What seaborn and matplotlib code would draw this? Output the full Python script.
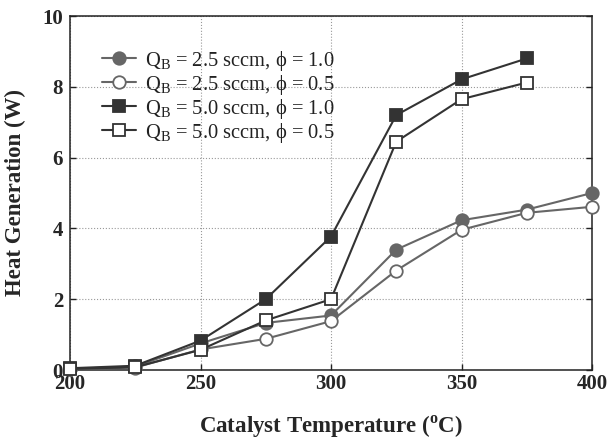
import numpy as np
import pandas as pd
import matplotlib
matplotlib.use("Agg")
import matplotlib.pyplot as plt
import seaborn as sns

temps_a = [200, 225, 250, 275, 300, 325, 350, 375, 400]
temps_b = [200, 225, 250, 275, 300, 325, 350, 375]
q25_phi10 = [0.03, 0.10, 0.75, 1.33, 1.54, 3.40, 4.23, 4.53, 5.00]
q25_phi05 = [0.02, 0.07, 0.58, 0.88, 1.38, 2.81, 3.96, 4.44, 4.61]
q50_phi10 = [0.05, 0.12, 0.83, 2.00, 3.77, 7.20, 8.21, 8.80]
q50_phi05 = [0.03, 0.08, 0.57, 1.40, 2.00, 6.45, 7.65, 8.12]
labels = [r"Q$_\mathregular{B}$ = 2.5 sccm, ϕ = 1.0",
          r"Q$_\mathregular{B}$ = 2.5 sccm, ϕ = 0.5",
          r"Q$_\mathregular{B}$ = 5.0 sccm, ϕ = 1.0",
          r"Q$_\mathregular{B}$ = 5.0 sccm, ϕ = 0.5"]
xticks = [200, 250, 300, 350, 400]
yticks = [0, 2, 4, 6, 8, 10]

sns.set_style("ticks")
plt.rcParams['font.family'] = ['Liberation Serif', 'DejaVu Serif']
plt.rcParams['mathtext.fontset'] = 'custom'
plt.rcParams['mathtext.rm'] = 'Liberation Serif'

fig = plt.figure(figsize=(6.08, 4.43), dpi=100)
ax = fig.add_axes([70/608, 1 - 370/443, (592-70)/608, (370-16)/443])

series = [
    (temps_a, q25_phi10, '#666666', 'o', '#666666'),
    (temps_a, q25_phi05, '#666666', 'o', 'white'),
    (temps_b, q50_phi10, '#333333', 's', '#333333'),
    (temps_b, q50_phi05, '#333333', 's', 'white'),
]
for (xs, ys, col, mk, fc), lab in zip(series, labels):
    df = pd.DataFrame({"T": xs, "H": ys})
    sns.lineplot(data=df, x="T", y="H", ax=ax, color=col, marker=mk,
                 markersize=9, markerfacecolor=fc,
                 markeredgecolor=col, markeredgewidth=1.3, linewidth=1.5,
                 label=lab, clip_on=False, zorder=3)

ax.set_xlim(200, 400)
ax.set_ylim(0, 10)
ax.set_xticks(xticks)
ax.set_yticks(yticks)
ax.grid(True, linestyle=':', color='#999999', linewidth=0.8)
ax.tick_params(direction='in', length=4, width=1, right=True, top=False,
               labelsize=15, pad=3, color='#222222')
ax.tick_params(axis='y', pad=5)
for lbl in ax.get_xticklabels() + ax.get_yticklabels():
    lbl.set_fontweight('bold')
for sp in ax.spines.values():
    sp.set_linewidth(1.1)
    sp.set_color('#222222')

ax.set_xlabel(r"Catalyst Temperature ($^\mathregular{o}$C)", fontsize=16.5,
              fontweight='bold', labelpad=14)
ax.set_ylabel("Heat Generation (W)", fontsize=16.5, fontweight='bold', labelpad=12)

leg = ax.legend(loc='upper left', frameon=False, fontsize=14.8,
                handlelength=1.7, handletextpad=0.4, labelspacing=0.0,
                borderaxespad=0.5, bbox_to_anchor=(0.025, 0.96))
for t in leg.get_texts():
    t.set_color('#222222')

fig.savefig("out.png", dpi=100)
